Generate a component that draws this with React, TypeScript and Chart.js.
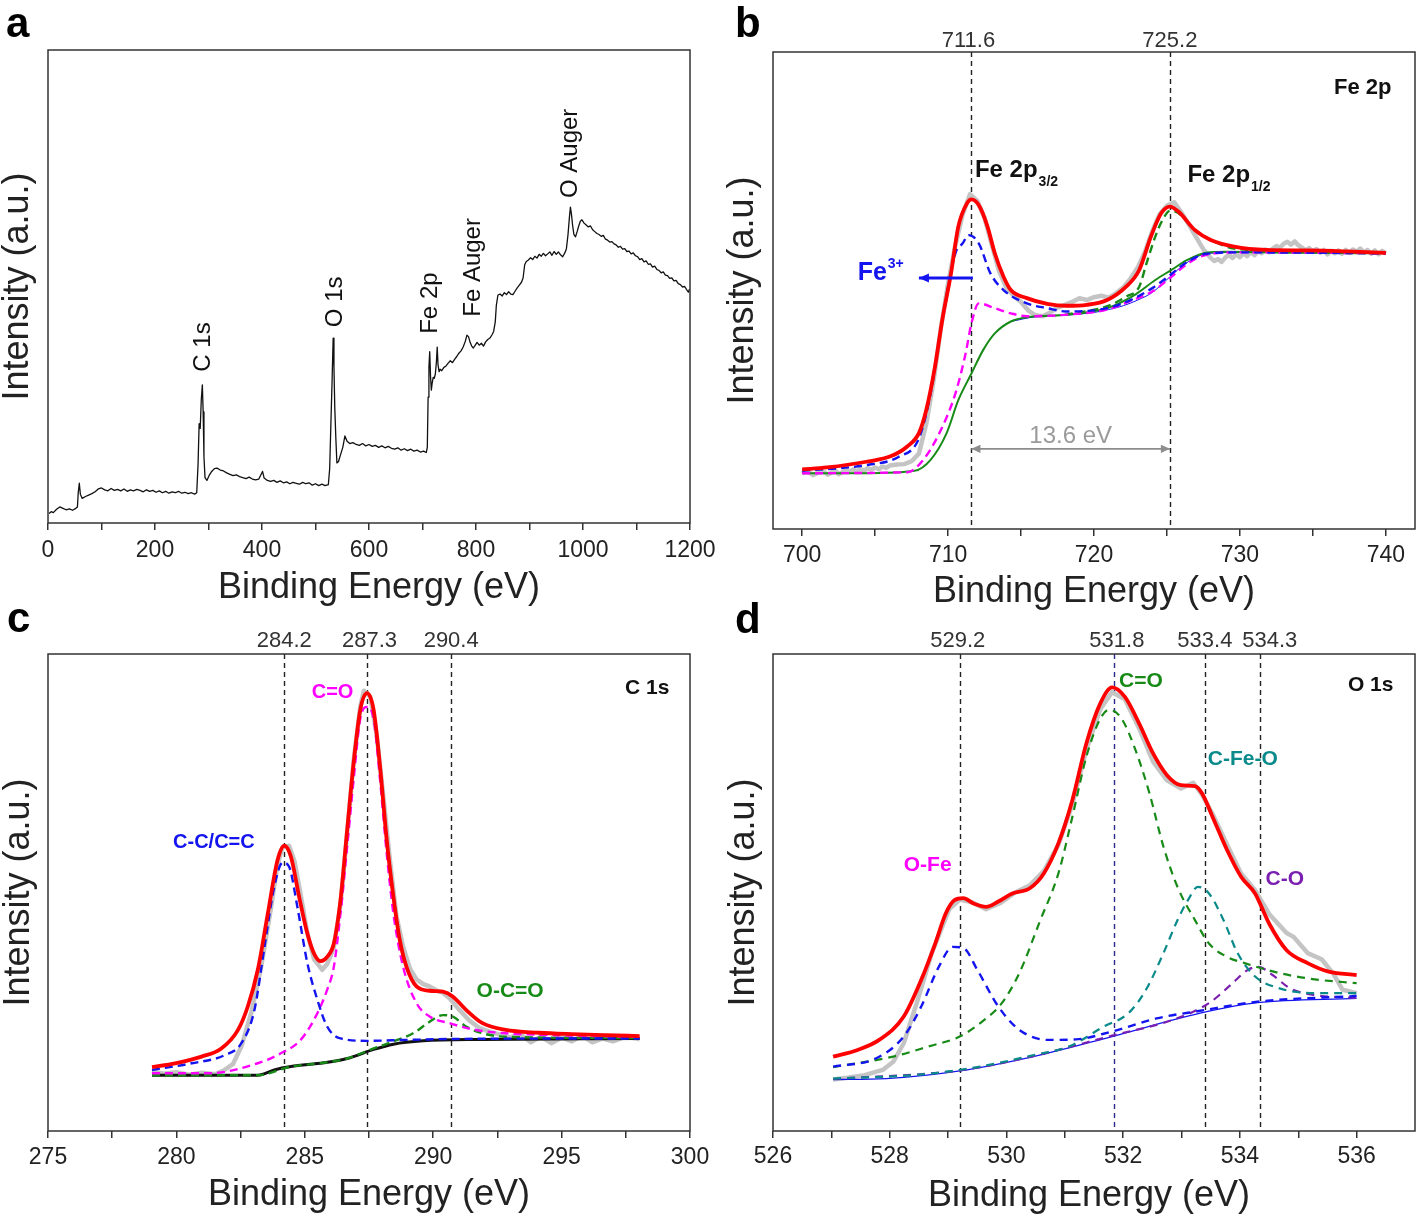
import React, { useEffect, useRef } from "react";
import { Chart, registerables } from "chart.js";

Chart.register(...registerables);

const FONT = '"Liberation Sans", Arial, Helvetica, sans-serif';
Chart.defaults.font.family = FONT;

// ---------------- Panel a: survey ----------------
const surveyTicks = [0, 100, 200, 300, 400, 500, 600, 700, 800, 900, 1000, 1100, 1200];
const surveyTickLabels = [0, 200, 400, 600, 800, 1000, 1200];
const survey: [number, number][] = [
  [2, 2.0], [6, 2.4], [10, 2.2], [16, 2.9], [22, 3.4], [28, 3.1], [34, 2.8], [40, 3.0], [46, 2.7], [52, 3.1], [55, 3.4],
  [56.5, 6.4], [58.5, 8.4], [60.5, 6.1], [64, 5.2], [70, 5.6], [76, 5.9], [82, 6.2], [88, 6.6], [94, 7.2], [100, 7.4],
  [106, 7.0], [112, 6.8], [118, 7.3], [124, 6.9], [130, 7.1], [136, 6.8], [142, 7.2], [148, 6.7], [154, 7.0], [160, 6.8],
  [166, 7.1], [172, 6.9], [178, 6.6], [184, 7.0], [190, 6.7], [196, 6.9], [202, 6.5], [208, 6.8], [214, 6.4], [220, 6.7],
  [226, 6.3], [232, 6.6], [238, 6.4], [244, 6.7], [250, 6.3], [256, 6.5], [262, 6.2], [268, 6.4], [274, 6.1], [278, 6.4],
  [280.5, 12.5], [282.5, 21.0], [284.5, 20.0], [286.5, 26.0], [288.5, 29.2], [290, 23.5], [291.5, 14.0], [293.5, 9.6],
  [297, 9.0], [301, 10.0], [306, 10.9], [311, 11.5], [316, 11.6], [322, 11.2], [328, 11.0], [334, 10.6], [340, 10.3],
  [346, 10.0], [352, 10.2], [358, 9.8], [364, 9.6], [370, 9.4], [376, 9.7], [382, 9.3], [388, 9.1], [394, 9.3], [398, 10.2],
  [401, 10.9], [404, 9.5], [410, 9.0], [416, 8.8], [422, 9.0], [428, 8.6], [434, 8.9], [440, 8.5], [446, 8.7], [452, 8.3],
  [458, 8.6], [464, 8.4], [470, 8.2], [476, 8.6], [482, 8.3], [488, 8.5], [494, 8.0], [500, 8.3], [506, 7.9], [512, 8.2],
  [518, 7.9], [524, 8.1], [526.5, 11.5], [529, 22.0], [531, 30.0], [533, 39.1], [534.5, 33.0], [536, 24.5], [538, 18.0],
  [540, 12.7], [543, 13.0], [547, 14.5], [551, 16.0], [555, 18.4], [559, 17.3], [564, 16.8], [570, 17.0], [576, 16.6],
  [582, 16.4], [588, 16.8], [594, 16.3], [600, 16.6], [606, 16.2], [612, 16.4], [618, 16.0], [624, 16.3], [630, 15.9],
  [636, 16.2], [642, 15.8], [648, 15.6], [654, 15.9], [660, 15.4], [666, 15.7], [672, 15.3], [678, 15.6], [684, 15.2],
  [690, 15.4], [696, 15.0], [702, 15.2], [707, 14.9], [709, 16.0], [710.5, 26.6], [712, 33.0], [713.5, 36.2], [715, 31.0],
  [716.5, 28.1], [718, 29.5], [720, 30.8], [722, 30.6], [724, 31.5], [726, 34.0], [727.5, 37.2], [729, 33.5], [731, 32.0],
  [733, 32.5], [736, 32.2], [740, 32.9], [744, 33.2], [748, 33.8], [752, 34.3], [756, 33.9], [760, 34.6], [764, 35.2],
  [768, 35.9], [772, 36.4], [776, 37.2], [780, 38.4], [783, 39.7], [786, 39.4], [789, 38.2], [792, 37.4], [795, 37.0],
  [798, 37.5], [802, 38.2], [806, 37.6], [810, 38.0], [814, 37.4], [818, 38.3], [822, 38.8], [826, 39.1], [830, 39.8],
  [833, 40.5], [836, 42.5], [838, 46.0], [841, 48.2], [845, 48.4], [849, 48.0], [853, 48.7], [857, 48.3], [861, 48.9],
  [865, 48.4], [869, 48.3], [873, 49.0], [877, 49.7], [881, 50.3], [885, 50.9], [888, 51.8], [891, 54.6], [894, 55.3],
  [898, 55.6], [902, 56.1], [906, 55.7], [910, 56.4], [914, 56.0], [918, 56.8], [922, 56.4], [926, 57.0], [930, 56.5],
  [934, 56.9], [938, 57.3], [942, 56.6], [946, 57.4], [950, 56.8], [954, 57.3], [958, 56.7], [962, 56.3], [966, 57.1],
  [969, 58.0], [972, 61.0], [974.5, 64.5], [976.5, 66.8], [978.5, 65.2], [980.5, 63.0], [983, 61.0], [986, 60.5],
  [989, 61.6], [992, 62.8], [995, 63.8], [998, 64.1], [1002, 63.4], [1006, 63.0], [1010, 62.6], [1014, 62.8], [1018, 62.0],
  [1022, 61.6], [1026, 61.2], [1030, 61.0], [1034, 60.6], [1038, 60.8], [1042, 60.0], [1046, 59.8], [1050, 59.4],
  [1054, 59.5], [1058, 59.0], [1062, 58.8], [1066, 58.3], [1070, 58.5], [1074, 57.9], [1078, 58.0], [1082, 57.4],
  [1086, 57.5], [1090, 56.9], [1094, 57.1], [1098, 56.5], [1102, 56.3], [1106, 55.7], [1110, 55.9], [1114, 55.2],
  [1118, 55.4], [1122, 54.7], [1126, 54.8], [1130, 54.1], [1134, 54.3], [1138, 53.6], [1142, 53.4], [1146, 52.9],
  [1150, 53.1], [1154, 52.4], [1158, 52.3], [1162, 51.7], [1166, 51.8], [1170, 51.2], [1174, 51.3], [1178, 50.6],
  [1182, 50.4], [1186, 49.9], [1190, 50.0], [1194, 49.3], [1197, 48.8], [1199, 49.4],
];

// ---------------- Panel b: Fe 2p ----------------
const fe2pTicks = [700, 705, 710, 715, 720, 725, 730, 735, 740];
const fe2pTickLabels = [700, 710, 720, 730, 740];
const fe2pRaw: [number, number][] = [
  [700, 11.6], [700.25, 12.1], [700.5, 11.8], [700.75, 11.3], [701, 11.7], [701.25, 12.2], [701.5, 11.9], [701.75, 11.4],
  [702, 11.8], [702.25, 12.3], [702.5, 11.5], [702.75, 11.9], [703, 12.4], [703.25, 12.0], [703.5, 12.5], [703.75, 12.1],
  [704, 12.6], [704.25, 12.2], [704.5, 12.8], [704.75, 12.4], [705, 12.9], [705.25, 12.5], [705.5, 13.1], [705.75, 12.8],
  [706, 13.3], [706.5, 13.5], [707, 13.6], [707.5, 14.2], [708, 15.8], [708.5, 22.0], [709, 31.0], [709.5, 42.0],
  [710, 51.5], [710.5, 59.5], [711, 66.0], [711.5, 70.2], [712, 68.8], [712.5, 65.2], [713, 59.5], [713.5, 54.0],
  [714, 50.5], [714.5, 48.9], [715, 47.6], [715.5, 45.8], [716, 44.8], [716.5, 44.6], [717, 45.4], [717.5, 46.4],
  [718, 47.0], [718.5, 47.6], [719, 48.4], [719.5, 48.0], [720, 48.6], [720.5, 48.9], [721, 48.5], [721.5, 49.4],
  [722, 50.6], [722.5, 52.5], [723, 54.8], [723.5, 58.2], [724, 62.5], [724.5, 66.0], [725, 67.8], [725.5, 68.5],
  [726, 66.3], [726.5, 63.8], [727, 61.2], [727.5, 58.6], [728, 56.8], [728.25, 56.2], [728.5, 56.6], [728.75, 56.0],
  [729, 56.9], [729.25, 57.5], [729.5, 56.8], [729.75, 57.6], [730, 57.0], [730.25, 57.8], [730.5, 57.2], [730.75, 58.1],
  [731, 57.4], [731.25, 58.3], [731.5, 57.8], [731.75, 58.6], [732, 58.0], [732.25, 58.8], [732.5, 59.3], [732.75, 59.0],
  [733, 59.8], [733.25, 60.2], [733.5, 59.6], [733.75, 60.3], [734, 59.5], [734.25, 59.0], [734.5, 58.4], [734.75, 58.9],
  [735, 58.2], [735.25, 58.7], [735.5, 57.9], [735.75, 58.5], [736, 57.6], [736.25, 58.3], [736.5, 57.8], [736.75, 58.4],
  [737, 57.7], [737.25, 58.5], [737.5, 57.9], [737.75, 58.6], [738, 58.1], [738.25, 58.8], [738.5, 58.0], [738.75, 58.5],
  [739, 57.7], [739.25, 58.4], [739.5, 57.6], [739.75, 58.3], [740, 57.8],
];
const fe2pEnvelope: [number, number][] = [
  [700, 12.5], [701.7, 12.9], [704.4, 14.1], [706.1, 15.3], [707.2, 17.3], [708.0, 20.1], [708.5, 24.9], [709.1, 34.0],
  [709.6, 43.8], [710.2, 53.6], [710.7, 63.4], [711.3, 68.3], [711.6, 69.1], [712.1, 67.9], [712.7, 63.4], [713.2, 57.8],
  [713.8, 52.9], [714.3, 50.1], [715.4, 48.4], [716.8, 47.2], [718.1, 46.8], [719.5, 47.0], [720.9, 48.0], [722.2, 50.8],
  [723.1, 54.3], [723.9, 61.3], [724.6, 66.2], [725.2, 67.6], [725.8, 66.5], [726.9, 62.7], [728.0, 60.6], [729.6, 59.2],
  [731.8, 58.5], [734.6, 58.4], [737.3, 58.2], [740, 57.9],
];
const fe2pFe3Comp: [number, number][] = [
  [700, 12.2], [704.4, 13.4], [706.6, 15.1], [708.0, 19.0], [708.8, 28.4], [709.6, 43.8], [710.5, 57.8], [711.0, 59.9],
  [711.4, 61.6], [712.1, 59.9], [712.9, 53.6], [713.8, 50.1], [715.4, 47.3], [716.8, 46.3], [718.1, 45.6], [720.9, 46.3],
  [722.5, 48.0], [724.0, 50.5], [725.2, 53.2], [726.4, 56.0], [727.7, 57.7], [730, 58.0], [740, 57.8],
];
const fe2pSatComp: [number, number][] = [
  [700, 11.7], [707.2, 11.9], [708.3, 14.5], [709.4, 20.1], [710.5, 28.4], [711.2, 36.8], [711.6, 43.1], [712.1, 47.3],
  [713.2, 46.3], [714.3, 45.2], [715.4, 44.6], [718, 44.9], [720.9, 46.0], [722.5, 47.8], [724, 49.8], [725.2, 52.6],
  [726.4, 55.6], [727.7, 57.5], [730, 58.0], [740, 57.8],
];
const fe2pHalfComp: [number, number][] = [
  [718, 44.9], [720.9, 46.7], [722.2, 48.7], [723.1, 50.8], [723.6, 55.7], [724.2, 61.3], [724.7, 64.8], [725.2, 66.7],
  [725.8, 66.2], [726.9, 62.7], [728.0, 60.6], [729.6, 58.8], [731.8, 58.4], [735, 58.0], [740, 57.8],
];
const fe2pBackground: [number, number][] = [
  [700, 11.7], [704.4, 11.7], [707.7, 12.2], [708.8, 14.5], [709.9, 20.1], [710.7, 27.0], [711.6, 32.6], [712.4, 37.5],
  [713.2, 41.0], [714.3, 43.5], [715.4, 44.4], [718.1, 44.9], [720.9, 46.3], [722.8, 49.1], [724.2, 52.2], [725.3, 54.3],
  [726.4, 56.4], [727.7, 57.9], [729.1, 58.1], [734.6, 57.9], [740, 57.8],
];
const fe2pBackground2: [number, number][] = [
  [714.3, 43.5], [716, 44.5], [718, 44.8], [720, 45.4], [721, 46.0], [722, 46.8], [723, 48.0], [724, 49.6], [725, 52.3],
  [726, 55.0], [727, 57.0], [728, 57.8], [730, 58.0], [740, 57.8],
];

// ---------------- Panel c: C 1s ----------------
const c1sTicks = [275, 277.5, 280, 282.5, 285, 287.5, 290, 292.5, 295, 297.5, 300];
const c1sTickLabels = [275, 280, 285, 290, 295, 300];
const c1sRaw: [number, number][] = [
  [279.05, 12.5], [279.5, 12.0], [280, 12.3], [280.5, 11.8], [281, 12.2], [281.5, 11.9], [281.88, 12.8], [282.2, 14.0],
  [282.53, 17.7], [282.91, 24.7], [283.3, 34.4], [283.69, 47.0], [283.94, 56.0], [284.14, 59.5], [284.39, 59.8], [284.6, 56.5],
  [284.84, 49.5], [285.1, 41.5], [285.36, 36.0], [285.68, 33.8], [285.87, 35.0], [286.13, 38.5], [286.39, 47.5], [286.65, 62.5],
  [286.9, 77.5], [287.16, 89.0], [287.3, 92.3], [287.55, 91.0], [287.8, 83.0], [288.06, 70.0], [288.32, 56.5], [288.57, 45.0],
  [288.83, 38.6], [289.1, 34.0], [289.35, 31.8], [289.61, 30.8], [289.86, 30.3], [290.12, 29.5], [290.38, 29.0], [290.64, 27.8],
  [291.0, 25.5], [291.4, 23.2], [291.8, 21.6], [292.2, 20.8], [292.6, 20.2], [293, 19.6], [293.4, 20.3], [293.8, 18.6],
  [294.2, 19.8], [294.6, 18.4], [295, 19.6], [295.4, 18.8], [295.8, 20.0], [296.2, 18.6], [296.6, 19.4], [297, 18.8],
  [297.5, 19.8], [298.04, 19.2],
];
const c1sEnvelope: [number, number][] = [
  [279.05, 13.4], [279.95, 14.2], [280.98, 15.6], [281.75, 17.3], [282.4, 21.2], [282.78, 26.1], [283.17, 33.8], [283.56, 45.6],
  [283.94, 56.8], [284.2, 59.8], [284.46, 57.5], [284.78, 49.1], [285.1, 41.4], [285.36, 37.2], [285.62, 35.6], [285.87, 36.5],
  [286.13, 39.3], [286.39, 48.4], [286.65, 63.1], [286.9, 77.1], [287.16, 88.3], [287.42, 91.8], [287.68, 88.3], [287.93, 76.4],
  [288.19, 61.0], [288.45, 49.1], [288.7, 40.0], [288.96, 34.4], [289.35, 30.3], [289.86, 29.4], [290.38, 29.2], [290.76, 28.2],
  [291.28, 25.4], [291.92, 22.6], [292.82, 21.2], [294.11, 20.6], [295.4, 20.3], [296.68, 20.1], [298.04, 19.9],
];
const c1sCCComp: [number, number][] = [
  [279.05, 12.8], [280.6, 14.2], [281.88, 15.9], [282.53, 18.4], [283.04, 25.4], [283.43, 38.6], [283.81, 51.2], [284.14, 56.3],
  [284.39, 55.4], [284.71, 47.0], [285.1, 35.2], [285.49, 27.5], [285.87, 21.9], [286.39, 19.4], [287.42, 18.9], [288.96, 19.1],
  [290.76, 19.3], [298.04, 19.4],
];
const c1sCOComp: [number, number][] = [
  [279.05, 12.1], [281.24, 12.1], [283.17, 14.2], [284.07, 16.3], [284.84, 19.1], [285.49, 24.7], [285.87, 29.6], [286.13, 34.4],
  [286.39, 45.6], [286.65, 59.6], [286.9, 73.6], [287.16, 86.4], [287.42, 88.9], [287.68, 86.4], [287.93, 73.6], [288.19, 58.2],
  [288.45, 45.6], [288.83, 34.4], [289.35, 26.8], [289.86, 24.0], [290.64, 22.6], [291.54, 21.3], [292.82, 20.5], [295.4, 20.0],
  [298.04, 19.7],
];
const c1sOCOComp: [number, number][] = [
  [279.05, 11.7], [283.17, 11.7], [284.46, 13.5], [285.74, 14.3], [286.65, 15.2], [287.68, 17.3], [288.45, 18.8], [289.22, 20.5],
  [289.86, 22.9], [290.38, 24.3], [290.76, 24.0], [291.28, 21.9], [292.05, 20.3], [293, 19.7], [298.04, 19.5],
];
const c1sBackground: [number, number][] = [
  [279.05, 11.7], [283.17, 11.7], [283.81, 12.8], [284.46, 13.5], [285.74, 14.3], [286.65, 15.2], [287.68, 17.1],
  [288.45, 18.2], [289.61, 18.9], [291.92, 19.2], [298.04, 19.4],
];

// ---------------- Panel d: O 1s ----------------
const o1sTicks = [526, 527, 528, 529, 530, 531, 532, 533, 534, 535, 536];
const o1sTickLabels = [526, 528, 530, 532, 534, 536];
const o1sRaw: [number, number][] = [
  [527.03, 10.8], [527.3, 11.2], [527.57, 11.7], [527.88, 12.8], [528.06, 14.5], [528.24, 18.4], [528.48, 27.5], [528.72, 37.3],
  [529.02, 46.5], [529.2, 48.5], [529.4, 48.0], [529.65, 46.5], [529.9, 47.8], [530.15, 50.0], [530.4, 51.5], [530.64, 54.5],
  [530.89, 60.0], [531.13, 68.5], [531.37, 80.0], [531.61, 88.5], [531.81, 92.0], [532.03, 90.5], [532.27, 84.5], [532.51, 77.5],
  [532.75, 73.5], [532.99, 71.8], [533.2, 73.0], [533.35, 70.5], [533.53, 66.5], [533.78, 60.0], [534.02, 54.0], [534.26, 50.5],
  [534.5, 45.5], [534.8, 41.5], [534.92, 40.7], [535.16, 37.3], [535.4, 36.0], [535.6, 33.0], [535.76, 29.6], [536, 28.9],
];
const o1sEnvelope: [number, number][] = [
  [527.03, 15.6], [527.45, 17.0], [527.82, 19.1], [528.24, 24.0], [528.54, 31.7], [528.78, 39.3], [528.96, 45.6], [529.11, 48.4],
  [529.26, 48.8], [529.44, 47.7], [529.65, 47.0], [529.86, 48.1], [530.1, 49.8], [530.4, 50.9], [530.64, 54.0], [530.89, 60.3],
  [531.13, 69.4], [531.37, 81.3], [531.61, 89.7], [531.81, 93.0], [532.03, 91.0], [532.27, 85.5], [532.51, 79.2], [532.75, 74.6],
  [532.99, 72.5], [533.23, 72.3], [533.35, 70.8], [533.53, 65.9], [533.78, 58.9], [534.02, 53.3], [534.26, 49.8], [534.5, 43.5],
  [534.8, 37.9], [535.16, 35.2], [535.52, 33.4], [536, 32.7],
];
const o1sOFeComp: [number, number][] = [
  [527.03, 13.5], [527.76, 15.2], [528.24, 19.8], [528.54, 26.1], [528.84, 34.4], [529.08, 38.6], [529.26, 38.4], [529.5, 33.8],
  [529.86, 26.1], [530.22, 21.2], [530.71, 19.1], [531.19, 19.2], [531.79, 20.8], [532.57, 23.6], [533.32, 25.2], [534.3, 27.1],
  [536, 28.3],
];
const o1sCOComp: [number, number][] = [
  [527.03, 13.4], [528.06, 15.6], [528.66, 17.7], [529.2, 19.8], [529.62, 23.3], [529.92, 26.8], [530.22, 33.1], [530.58, 44.2],
  [530.89, 54.0], [531.13, 65.9], [531.37, 78.5], [531.61, 86.5], [531.76, 88.3], [531.97, 86.5], [532.21, 79.9], [532.45, 70.8],
  [532.69, 59.6], [532.93, 51.2], [533.23, 44.2], [533.47, 39.3], [533.78, 36.5], [534.08, 35.2], [534.68, 33.1], [535.28, 31.8],
  [536, 31.0],
];
const o1sCFeOComp: [number, number][] = [
  [527.03, 11.0], [528.5, 11.8], [529.5, 13.4], [530.5, 16.0], [531.07, 17.7], [531.67, 21.9], [532.09, 24.7], [532.39, 29.6],
  [532.69, 37.3], [532.93, 44.2], [533.11, 48.4], [533.28, 51.2], [533.47, 49.8], [533.72, 44.2], [533.96, 37.3], [534.26, 32.4],
  [534.68, 29.9], [535.28, 28.9], [536, 28.9],
];
const o1sCOsingleComp: [number, number][] = [
  [527.03, 10.9], [529.2, 12.7], [530.46, 15.7], [531.81, 20.0], [532.87, 23.4], [533.47, 26.8], [533.84, 30.6], [534.14, 33.8],
  [534.32, 34.4], [534.56, 32.7], [534.86, 29.9], [535.28, 28.5], [536, 27.9],
];
const o1sBackground: [number, number][] = [
  [527.03, 10.8], [527.94, 11.0], [529.2, 12.6], [530.46, 15.6], [531.81, 19.8], [533.32, 24.7], [534.3, 26.9], [536, 27.8],
];

// ---------------- colours ----------------
const RED = "#ff0000";
const GRAY = "#c4c4c4";
const BLUE = "#1414f0";
const MAGENTA = "#ff00ff";
const GREEN = "#178a17";
const TEAL = "#0a8a8a";
const PURPLE = "#7a1fb0";

type Series = { data: [number, number][]; color: string; width: number; dash?: number[]; smooth: boolean; order: number };
type TextItem = { text: string; x: number; y: number; size: number; color: string; bold?: boolean; align?: string; rotate?: boolean; sub?: string; sup?: string };
type Arrow = { x1: number; y1: number; x2: number; y2: number; color: string; width: number; head: number; both?: boolean };
type VLine = { x: number; label: string; dx: number; color: string };

const panels = [
  {
    letter: "a", cx: 0, cy: 0, cw: 740, ch: 620,
    pad: { left: 0, top: 50, right: 50, bottom: 14 }, yw: 48, xh: 83, tickPad: 7, titleDx: 10,
    xmin: 0, xmax: 1200, ticks: surveyTicks, tickLabels: surveyTickLabels,
    series: [{ data: survey, color: "#111", width: 1.3, smooth: false, order: 0 }],
    vlines: [], topGap: 5,
    texts: [
      { text: "C 1s", x: 289.7, y: 32.0, size: 24, color: "#111", rotate: true },
      { text: "O 1s", x: 536.4, y: 41.4, size: 24, color: "#111", rotate: true },
      { text: "Fe 2p", x: 714, y: 40.0, size: 24, color: "#111", rotate: true },
      { text: "Fe Auger", x: 794.4, y: 43.6, size: 24, color: "#111", rotate: true },
      { text: "O Auger", x: 975.7, y: 68.7, size: 24, color: "#111", rotate: true },
    ],
    arrows: [], letterPos: [6, 37],
  },
  {
    letter: "b", cx: 709, cy: 0, cw: 709, ch: 620,
    pad: { left: 16, top: 52, right: 3, bottom: 10 }, yw: 48, xh: 81, tickPad: 6, titleDx: 0,
    xmin: 698, xmax: 742, ticks: fe2pTicks, tickLabels: fe2pTickLabels,
    series: [
      { data: fe2pEnvelope, color: RED, width: 3.8, smooth: true, order: 0 },
      { data: fe2pFe3Comp, color: BLUE, width: 2.4, dash: [8, 5], smooth: true, order: 1 },
      { data: fe2pSatComp, color: MAGENTA, width: 2.4, dash: [8, 5], smooth: true, order: 2 },
      { data: fe2pHalfComp, color: GREEN, width: 2.4, dash: [8, 5], smooth: true, order: 3 },
      { data: fe2pBackground, color: GREEN, width: 2, smooth: true, order: 4 },
      { data: fe2pBackground2, color: BLUE, width: 1, smooth: true, order: 5 },
      { data: fe2pRaw, color: GRAY, width: 4.5, smooth: false, order: 10 },
    ],
    vlines: [
      { x: 711.6, label: "711.6", dx: -3, color: "#222" },
      { x: 725.2, label: "725.2", dx: 0, color: "#222" },
    ], topGap: 5,
    texts: [
      { text: "Fe 2p", x: 736.45, y: 91.2, size: 22, color: "#111", bold: true },
      { text: "Fe 2p", x: 711.84, y: 73.8, size: 24, color: "#111", bold: true, sub: "3/2" },
      { text: "Fe 2p", x: 726.4, y: 72.7, size: 24, color: "#111", bold: true, sub: "1/2" },
      { text: "Fe", x: 703.8, y: 52.2, size: 25, color: BLUE, bold: true, sup: "3+" },
      { text: "13.6 eV", x: 718.4, y: 18.0, size: 24, color: "#9a9a9a", align: "center" },
    ],
    arrows: [
      { x1: 711.7, y1: 52.6, x2: 708.0, y2: 52.6, color: BLUE, width: 3, head: 10 },
      { x1: 711.6, y1: 16.8, x2: 725.2, y2: 16.8, color: "#8c8c8c", width: 1.6, head: 9, both: true },
    ],
    letterPos: [26, 37],
  },
  {
    letter: "c", cx: 0, cy: 600, cw: 740, ch: 616,
    pad: { left: 1, top: 54, right: 50, bottom: 3 }, yw: 47, xh: 82, tickPad: 6, titleDx: 0,
    xmin: 275, xmax: 300, ticks: c1sTicks, tickLabels: c1sTickLabels,
    series: [
      { data: c1sEnvelope, color: RED, width: 3.8, smooth: true, order: 0 },
      { data: c1sCCComp, color: BLUE, width: 2.4, dash: [8, 5], smooth: true, order: 1 },
      { data: c1sCOComp, color: MAGENTA, width: 2.4, dash: [8, 5], smooth: true, order: 2 },
      { data: c1sOCOComp, color: GREEN, width: 2.4, dash: [8, 5], smooth: true, order: 3 },
      { data: c1sBackground, color: "#111", width: 3, smooth: true, order: 4 },
      { data: c1sRaw, color: GRAY, width: 4.5, smooth: false, order: 10 },
    ],
    vlines: [
      { x: 284.2, label: "284.2", dx: 0, color: "#222" },
      { x: 287.44, label: "287.3", dx: 2, color: "#222" },
      { x: 290.7, label: "290.4", dx: 0, color: "#222" },
    ], topGap: 7,
    texts: [
      { text: "C 1s", x: 297.47, y: 91.6, size: 21, color: "#111", bold: true },
      { text: "C=O", x: 285.27, y: 90.8, size: 20, color: MAGENTA, bold: true },
      { text: "C-C/C=C", x: 279.87, y: 59.3, size: 20, color: BLUE, bold: true },
      { text: "O-C=O", x: 291.69, y: 28.1, size: 21, color: GREEN, bold: true },
    ],
    arrows: [], letterPos: [7, 32],
  },
  {
    letter: "d", cx: 709, cy: 600, cw: 709, ch: 616,
    pad: { left: 17, top: 54, right: 3, bottom: 2 }, yw: 47, xh: 83, tickPad: 5, titleDx: -5,
    xmin: 526, xmax: 537, ticks: o1sTicks, tickLabels: o1sTickLabels,
    series: [
      { data: o1sEnvelope, color: RED, width: 3.8, smooth: true, order: 0 },
      { data: o1sOFeComp, color: BLUE, width: 2.4, dash: [8, 6], smooth: true, order: 1 },
      { data: o1sCOComp, color: GREEN, width: 2.2, dash: [8, 6], smooth: true, order: 2 },
      { data: o1sCFeOComp, color: TEAL, width: 2.2, dash: [8, 6], smooth: true, order: 3 },
      { data: o1sCOsingleComp, color: PURPLE, width: 2.2, dash: [8, 6], smooth: true, order: 4 },
      { data: o1sBackground, color: BLUE, width: 1.3, smooth: true, order: 5 },
      { data: o1sRaw, color: GRAY, width: 4.5, smooth: false, order: 10 },
    ],
    vlines: [
      { x: 529.2, label: "529.2", dx: -2, color: "#222" },
      { x: 531.84, label: "531.8", dx: 3, color: "#2a2a8a" },
      { x: 533.4, label: "533.4", dx: 0, color: "#222" },
      { x: 534.34, label: "534.3", dx: 10, color: "#222" },
    ], topGap: 7,
    texts: [
      { text: "O 1s", x: 535.85, y: 92.2, size: 21, color: "#111", bold: true },
      { text: "C=O", x: 531.93, y: 93.1, size: 21, color: GREEN, bold: true },
      { text: "C-Fe-O", x: 533.45, y: 76.7, size: 21, color: TEAL, bold: true },
      { text: "O-Fe", x: 528.24, y: 54.5, size: 21, color: MAGENTA, bold: true },
      { text: "C-O", x: 534.44, y: 51.6, size: 21, color: PURPLE, bold: true },
    ],
    arrows: [], letterPos: [26, 33],
  },
];

function font(size: number, bold?: boolean) {
  return `${bold ? "bold " : ""}${size}px ${FONT}`;
}

function arrowHead(ctx: CanvasRenderingContext2D, x: number, y: number, ang: number, len: number) {
  ctx.beginPath();
  ctx.moveTo(x, y);
  ctx.lineTo(x - len * Math.cos(ang) + (len * 0.45) * Math.sin(ang), y - len * Math.sin(ang) - (len * 0.45) * Math.cos(ang));
  ctx.lineTo(x - len * Math.cos(ang) - (len * 0.45) * Math.sin(ang), y - len * Math.sin(ang) + (len * 0.45) * Math.cos(ang));
  ctx.closePath();
  ctx.fill();
}

function panelPlugin(p: any) {
  return {
    id: "panelDeco" + p.letter,
    beforeDatasetsDraw(chart: any) {
      const { ctx, chartArea: a, scales } = chart;
      ctx.save();
      ctx.setLineDash([5, 4]);
      ctx.lineWidth = 1.4;
      p.vlines.forEach((v: VLine) => {
        const px = Math.round(scales.x.getPixelForValue(v.x)) + 0.5;
        ctx.strokeStyle = v.color;
        ctx.beginPath();
        ctx.moveTo(px, a.top);
        ctx.lineTo(px, a.bottom);
        ctx.stroke();
      });
      ctx.restore();
    },
    afterDraw(chart: any) {
      const { ctx, chartArea: a, scales } = chart;
      const xs = scales.x;
      const ys = scales.y;
      ctx.save();
      // frame
      ctx.strokeStyle = "#333";
      ctx.lineWidth = 1.5;
      ctx.setLineDash([]);
      ctx.strokeRect(a.left, a.top, a.right - a.left, a.bottom - a.top);
      // x-axis title (drawn here so that it can be nudged horizontally)
      ctx.fillStyle = "#222";
      ctx.font = font(36);
      ctx.textAlign = "center";
      ctx.textBaseline = "middle";
      ctx.fillText("Binding Energy (eV)", (a.left + a.right) / 2 + p.titleDx, xs.bottom - 18);
      // top labels of the dashed lines
      ctx.fillStyle = "#333";
      ctx.font = font(22);
      ctx.textAlign = "center";
      ctx.textBaseline = "alphabetic";
      p.vlines.forEach((v: VLine) => {
        ctx.fillText(v.label, xs.getPixelForValue(v.x) + v.dx, a.top - p.topGap);
      });
      // arrows
      p.arrows.forEach((ar: Arrow) => {
        const x1 = xs.getPixelForValue(ar.x1), y1 = ys.getPixelForValue(ar.y1);
        const x2 = xs.getPixelForValue(ar.x2), y2 = ys.getPixelForValue(ar.y2);
        ctx.strokeStyle = ar.color;
        ctx.fillStyle = ar.color;
        ctx.lineWidth = ar.width;
        ctx.beginPath();
        ctx.moveTo(x1, y1);
        ctx.lineTo(x2, y2);
        ctx.stroke();
        const ang = Math.atan2(y2 - y1, x2 - x1);
        arrowHead(ctx, x2, y2, ang, ar.head);
        if (ar.both) arrowHead(ctx, x1, y1, ang + Math.PI, ar.head);
      });
      // texts
      p.texts.forEach((t: TextItem) => {
        const px = xs.getPixelForValue(t.x);
        const py = ys.getPixelForValue(t.y);
        ctx.fillStyle = t.color;
        ctx.font = font(t.size, t.bold);
        if (t.rotate) {
          ctx.save();
          ctx.translate(px, py);
          ctx.rotate(-Math.PI / 2);
          ctx.textAlign = "left";
          ctx.textBaseline = "middle";
          ctx.fillText(t.text, 0, 0);
          ctx.restore();
          return;
        }
        ctx.textAlign = (t.align || "left") as CanvasTextAlign;
        ctx.textBaseline = "alphabetic";
        ctx.fillText(t.text, px, py);
        const w = ctx.measureText(t.text).width;
        if (t.sub) {
          ctx.font = font(Math.round(t.size * 0.58), t.bold);
          ctx.textAlign = "left";
          ctx.fillText(t.sub, px + w + 1, py + t.size * 0.38);
        }
        if (t.sup) {
          ctx.font = font(Math.round(t.size * 0.55), t.bold);
          ctx.textAlign = "left";
          ctx.fillText(t.sup, px + w + 1, py - t.size * 0.48);
        }
      });
      // panel letter
      ctx.fillStyle = "#000";
      ctx.font = font(42, true);
      ctx.textAlign = "left";
      ctx.textBaseline = "alphabetic";
      ctx.fillText(p.letter, p.letterPos[0], p.letterPos[1]);
      ctx.restore();
    },
  };
}

function buildConfig(p: any): any {
  return {
    type: "line",
    data: {
      datasets: p.series.map((s: Series) => ({
        data: s.data.map(([x, y]) => ({ x, y })),
        borderColor: s.color,
        backgroundColor: s.color,
        borderWidth: s.width,
        borderDash: s.dash || [],
        pointRadius: 0,
        fill: false,
        order: s.order,
        tension: s.smooth ? 0.4 : 0,
        cubicInterpolationMode: s.smooth ? "monotone" : "default",
        borderJoinStyle: "round",
      })),
    },
    options: {
      responsive: false,
      animation: false,
      devicePixelRatio: 1,
      layout: { padding: p.pad },
      plugins: { legend: { display: false }, tooltip: { enabled: false } },
      scales: {
        x: {
          type: "linear",
          position: "bottom",
          min: p.xmin,
          max: p.xmax,
          bounds: "data",
          afterBuildTicks: (scale: any) => {
            scale.ticks = p.ticks.map((v: number) => ({ value: v }));
          },
          afterFit: (scale: any) => {
            scale.height = p.xh;
          },
          ticks: {
            autoSkip: false,
            maxRotation: 0,
            minRotation: 0,
            padding: p.tickPad,
            color: "#222",
            font: { size: 23, family: FONT, lineHeight: 1.2 },
            callback: (value: number) => (p.tickLabels.includes(value) ? String(value) : ""),
          },
          grid: { display: true, drawOnChartArea: false, drawTicks: true, tickLength: 7, color: "#333", lineWidth: 1.5 },
          border: { display: false },
          title: { display: false },
        },
        y: {
          type: "linear",
          position: "left",
          min: 0,
          max: 100,
          ticks: { display: false },
          grid: { display: false, drawTicks: false },
          border: { display: false },
          afterFit: (scale: any) => {
            scale.width = p.yw;
          },
          title: {
            display: true,
            text: "Intensity (a.u.)",
            color: "#222",
            padding: 0,
            font: { size: 36, family: FONT, lineHeight: 1 },
          },
        },
      },
    },
    plugins: [panelPlugin(p)],
  };
}

function PanelChart({ p }: { p: any }) {
  const ref = useRef<HTMLCanvasElement | null>(null);
  useEffect(() => {
    if (!ref.current) return;
    const chart = new Chart(ref.current, buildConfig(p));
    return () => chart.destroy();
  }, [p]);
  return (
    <canvas
      ref={ref}
      width={p.cw}
      height={p.ch}
      style={{ position: "absolute", left: p.cx, top: p.cy, width: p.cw, height: p.ch, display: "block" }}
    />
  );
}

export default function App() {
  return (
    <div style={{ position: "absolute", left: 0, top: 0, width: 1418, height: 1216, background: "#fff", overflow: "hidden" }}>
      {panels.map((p) => (
        <PanelChart key={p.letter} p={p} />
      ))}
    </div>
  );
}
